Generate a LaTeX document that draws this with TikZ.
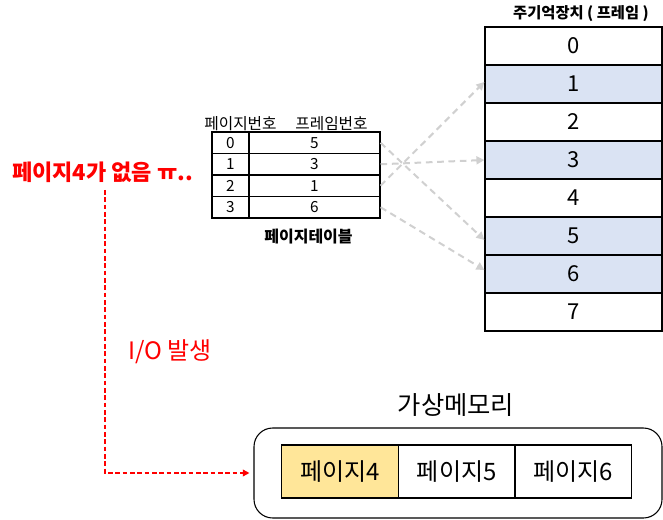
\documentclass[tikz,border=0pt]{standalone}
\usepackage{fontspec}
\setmainfont{Noto Sans CJK KR}
\usetikzlibrary{arrows.meta}
\definecolor{rowblue}{HTML}{DAE3F3}
\definecolor{pageyellow}{HTML}{FFE699}
\definecolor{arrowgray}{HTML}{D0D0D0}
\definecolor{missred}{HTML}{FF0000}
\tikzset{
  memcell/.style={draw, line width=0.9pt, minimum width=132.75pt, minimum height=28.5pt, inner sep=0pt, font=\fontsize{16.5}{18}\selectfont},
  pgcell/.style={draw, line width=0.8pt, minimum width=27.75pt, minimum height=16.125pt, inner sep=0pt, font=\fontsize{11.5}{12}\selectfont},
  frcell/.style={draw, line width=0.8pt, minimum width=98.25pt, minimum height=16.125pt, inner sep=0pt, font=\fontsize{11.5}{12}\selectfont},
  vcell/.style={draw, line width=0.8pt, minimum width=87.4pt, minimum height=39.75pt, inner sep=0pt, font=\fontsize{18}{20}\selectfont},
  maparrow/.style={draw=arrowgray, line width=1.5pt, dash pattern=on 5pt off 3.5pt, -{Triangle[width=6pt,length=6pt]}},
  ioarrow/.style={draw=missred, line width=1.2pt, dash pattern=on 3.5pt off 2pt, -{Triangle[width=5pt,length=5pt]}},
}
\begin{document}
\begin{tikzpicture}[x=0.75pt,y=-0.75pt]
\useasboundingbox (0,0) rectangle (663,520);
% main memory
\node[font=\bfseries\fontsize{11.5}{13}\selectfont] (memtitle) at (581,14) {주기억장치 ( 프레임 )};
\node[memcell] (m0) at (573.5,46) {0};
\node[memcell, fill=rowblue] (m1) at (573.5,84) {1};
\node[memcell] (m2) at (573.5,122) {2};
\node[memcell, fill=rowblue] (m3) at (573.5,160) {3};
\node[memcell] (m4) at (573.5,198) {4};
\node[memcell, fill=rowblue] (m5) at (573.5,236) {5};
\node[memcell, fill=rowblue] (m6) at (573.5,274) {6};
\node[memcell] (m7) at (573.5,312) {7};
% page table
\node[font=\fontsize{11.8}{13}\selectfont] (hpage) at (240.5,124) {페이지번호};
\node[font=\fontsize{11.8}{13}\selectfont] (hframe) at (331.5,124) {프레임번호};
\node[pgcell] (p0) at (230.5,142.75) {0};
\node[frcell] (f0) at (314.5,142.75) {5};
\node[pgcell] (p1) at (230.5,164.25) {1};
\node[frcell] (f1) at (314.5,164.25) {3};
\node[pgcell] (p2) at (230.5,185.75) {2};
\node[frcell] (f2) at (314.5,185.75) {1};
\node[pgcell] (p3) at (230.5,207.25) {3};
\node[frcell] (f3) at (314.5,207.25) {6};
\node[font=\bfseries\fontsize{12}{13}\selectfont] (ptitle) at (308.5,237) {페이지테이블};
% mapping arrows
\draw[maparrow] (f0.east) -- ([yshift=-3pt]m5.west);
\draw[maparrow] (f1.east) -- (m3.west);
\draw[maparrow] (f2.east) -- ([yshift=1.5pt]m1.west);
\draw[maparrow] (f3.east) -- ([yshift=3pt]m6.west);
% page miss
\node[font=\bfseries\fontsize{16.5}{18}\selectfont, text=missred, anchor=west, inner sep=0pt] (miss) at (12,172) {페이지4가 없음 ㅠ..};
\node[font=\fontsize{18}{20}\selectfont, text=missred] (io) at (170,352) {I/O 발생};
% virtual memory
\node[font=\fontsize{19}{22}\selectfont] (vmtitle) at (456,405) {가상메모리};
\node[draw, line width=0.8pt, rounded corners=14pt, minimum width=306pt, minimum height=67.5pt, inner sep=0pt] (vm) at (458,473) {};
\node[vcell, fill=pageyellow] (v4) at (340.2,471.5) {페이지4};
\node[vcell] (v5) at (456.7,471.5) {페이지5};
\node[vcell] (v6) at (573.2,471.5) {페이지6};
\coordinate (iostart) at (105,190);
\draw[ioarrow, shorten >=3pt] (iostart) |- (vm.west);
\end{tikzpicture}
\end{document}
